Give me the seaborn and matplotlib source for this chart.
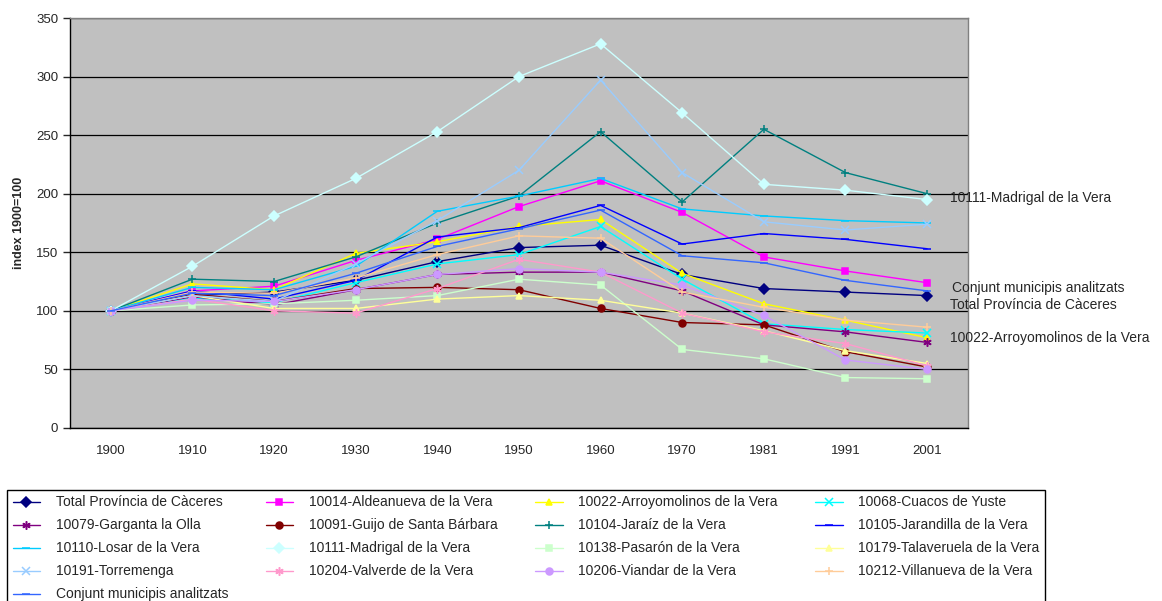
import matplotlib
matplotlib.use("Agg")
import matplotlib.pyplot as plt
from matplotlib.ticker import FixedLocator, MultipleLocator
import seaborn as sns
import pandas as pd

years = ["1900", "1910", "1920", "1930", "1940", "1950", "1960", "1970", "1981", "1991", "2001"]

total_caceres = [100, 113, 116, 126, 142, 154, 156, 131, 119, 116, 113]
aldeanueva = [100, 117, 121, 143, 161, 189, 211, 184, 146, 134, 124]
arroyomolinos = [100, 123, 118, 149, 159, 172, 178, 132, 106, 92, 77]
cuacos = [100, 111, 107, 124, 140, 148, 172, 127, 89, 84, 81]
garganta = [100, 112, 105, 118, 131, 133, 133, 117, 88, 82, 73]
guijo = [100, 114, 108, 119, 120, 118, 102, 90, 88, 65, 52]
jaraiz = [100, 127, 125, 146, 175, 198, 253, 193, 255, 218, 200]
jarandilla = [100, 117, 110, 126, 163, 171, 190, 157, 166, 161, 153]
losar = [100, 120, 118, 138, 185, 198, 213, 187, 181, 177, 175]
madrigal = [100, 138, 181, 213, 253, 300, 328, 269, 208, 203, 195]
pasaron = [100, 105, 106, 109, 113, 127, 122, 67, 59, 43, 42]
talaveruela = [100, 113, 102, 102, 110, 113, 109, 98, 83, 66, 55]
torremenga = [100, 113, 108, 140, 177, 220, 297, 218, 176, 169, 174]
valverde = [100, 110, 100, 98, 119, 144, 133, 98, 82, 72, 53]
viandar = [100, 109, 108, 118, 131, 136, 133, 122, 96, 58, 50]
villanueva = [100, 116, 115, 128, 148, 164, 162, 116, 103, 92, 86]
conjunt = [100, 115, 113, 132, 155, 170, 186, 147, 141, 126, 117]

series = [
    ("Total Província de Càceres", total_caceres, "#000080", "D"),
    ("10014-Aldeanueva de la Vera", aldeanueva, "#FF00FF", "s"),
    ("10022-Arroyomolinos de la Vera", arroyomolinos, "#FFFF00", "^"),
    ("10068-Cuacos de Yuste", cuacos, "#00FFFF", "x"),
    ("10079-Garganta la Olla", garganta, "#800080", (6, 2, 0)),
    ("10091-Guijo de Santa Bárbara", guijo, "#800000", "o"),
    ("10104-Jaraíz de la Vera", jaraiz, "#008080", "+"),
    ("10105-Jarandilla de la Vera", jarandilla, "#0000FF", "_"),
    ("10110-Losar de la Vera", losar, "#00CCFF", "_"),
    ("10111-Madrigal de la Vera", madrigal, "#CCFFFF", "D"),
    ("10138-Pasarón de la Vera", pasaron, "#CCFFCC", "s"),
    ("10179-Talaveruela de la Vera", talaveruela, "#FFFF99", "^"),
    ("10191-Torremenga", torremenga, "#99CCFF", "x"),
    ("10204-Valverde de la Vera", valverde, "#FF99CC", (6, 2, 0)),
    ("10206-Viandar de la Vera", viandar, "#CC99FF", "o"),
    ("10212-Villanueva de la Vera", villanueva, "#FFCC99", "+"),
    ("Conjunt municipis analitzats", conjunt, "#3366FF", "_"),
]

sns.set_style("white")
plt.rcParams["font.family"] = ["Liberation Sans", "DejaVu Sans"]

fig = plt.figure(figsize=(11.62, 6.01), dpi=100)
ax = fig.add_axes([0.0602, 0.288, 0.7728, 0.682])
ax.set_facecolor("#C0C0C0")

for name, vals, col, mk in series:
    df = pd.DataFrame({"any": years, "index": vals})
    ms = 5 if mk in ("D", "s", "^", "o") else 6
    sns.lineplot(data=df, x="any", y="index", ax=ax, color=col, marker=mk,
                 markersize=ms, markeredgecolor=col, markerfacecolor=col,
                 markeredgewidth=1.1, linewidth=1.0, label=name, sort=False)

ax.set_xlim(-0.5, len(years) - 0.5)
ax.set_ylim(0, 350)
ax.yaxis.set_major_locator(MultipleLocator(50))
ax.grid(axis="y", color="#000000", linewidth=0.9)
ax.set_axisbelow(True)
ax.set_xlabel("")
ax.set_ylabel("index 1900=100", fontsize=9, fontweight="bold", labelpad=8)

ax.xaxis.set_minor_locator(FixedLocator([i - 0.5 for i in range(len(years) + 1)]))
ax.tick_params(axis="x", which="major", length=0, labelsize=9.5, pad=12)
ax.tick_params(axis="x", which="minor", length=5, width=1, color="#000000", direction="out")
ax.tick_params(axis="y", which="major", length=5, width=1, labelsize=9.5, direction="out", left=True)

for side in ["left", "bottom"]:
    ax.spines[side].set_color("#000000")
    ax.spines[side].set_linewidth(1)
for side in ["top", "right"]:
    ax.spines[side].set_color("#808080")
    ax.spines[side].set_linewidth(1)

ax.get_legend().remove()

# etiquetes a la dreta
fig.text(0.8176, 0.6705, "10111-Madrigal de la Vera", fontsize=10, va="center")
fig.text(0.8193, 0.5208, "Conjunt municipis analitzats", fontsize=10, va="center")
fig.text(0.8176, 0.4925, "Total Província de Càceres", fontsize=10, va="center")
fig.text(0.8176, 0.4376, "10022-Arroyomolinos de la Vera", fontsize=10, va="center")

handles, labels = ax.get_legend_handles_labels()
# ordre per files (Excel) -> ordre per columnes (matplotlib)
order = [0, 4, 8, 12, 16, 1, 5, 9, 13, 2, 6, 10, 14, 3, 7, 11, 15]
leg = fig.legend([handles[i] for i in order], [labels[i] for i in order],
                 loc="upper left", bbox_to_anchor=(0.006, 0.185), ncol=4,
                 fontsize=10, frameon=True, fancybox=False, framealpha=1,
                 edgecolor="#000000", handlelength=2.0, handletextpad=1.1,
                 columnspacing=2.7, labelspacing=0.65, borderpad=0.4,
                 borderaxespad=0)
leg.get_frame().set_linewidth(1)

fig.savefig("out.png", dpi=100)
